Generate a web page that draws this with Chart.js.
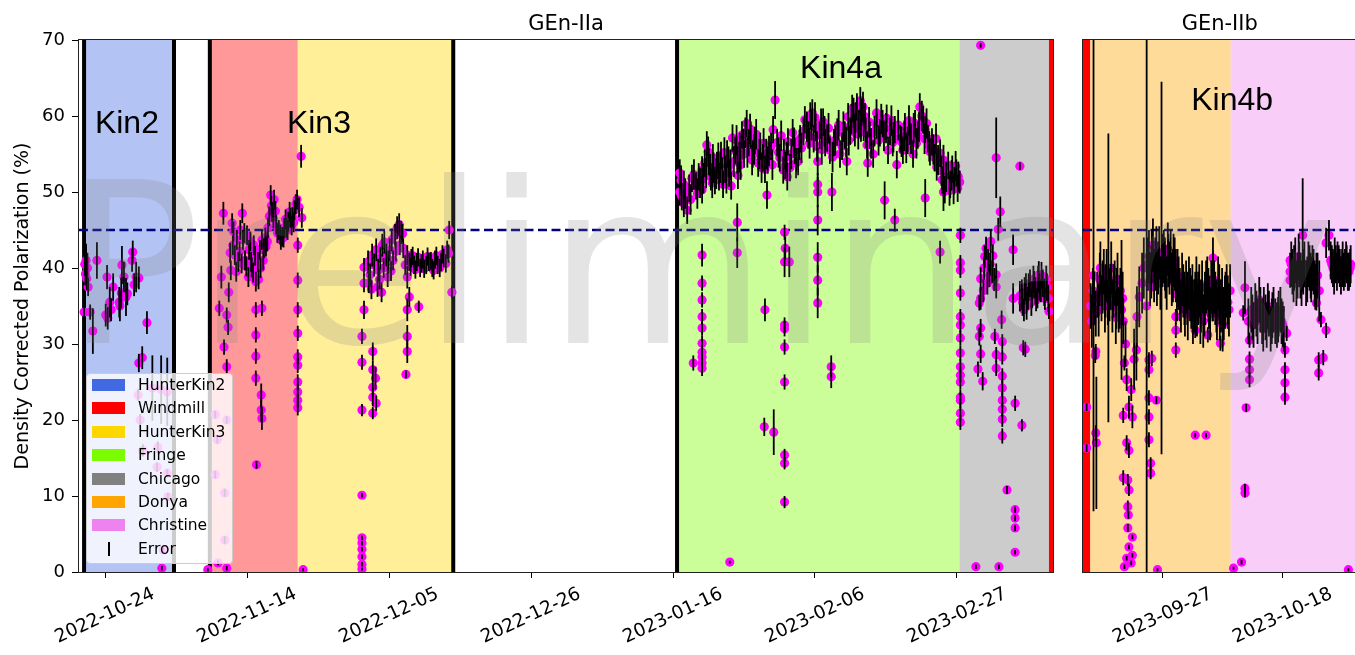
<!DOCTYPE html>
<html>
<head>
<meta charset="utf-8">
<title>Density Corrected Polarization</title>
<script src="https://cdn.jsdelivr.net/npm/chart.js@4.4.1/dist/chart.umd.min.js"></script>
<style>
  html, body { margin: 0; padding: 0; background: #fff; overflow: hidden; }
  #wrap { position: relative; width: 1355px; height: 655px; overflow: hidden; }
  #chartA { position: absolute; left: 0; top: 0; }
  #chartB { position: absolute; left: 1060px; top: 0; }
  #watermark {
    position: absolute; left: 65px; top: 153px;
    font-family: 'DejaVu Sans'; font-size: 225px; line-height: 1;
    color: rgba(128, 128, 128, 0.21); white-space: nowrap; pointer-events: none;
  }
  #legend {
    position: absolute; left: 86px; top: 373px; width: 147px; height: 191px;
    box-sizing: border-box; background: rgba(255, 255, 255, 0.8);
    border: 1px solid #ccc; border-radius: 4px;
    font-family: 'DejaVu Sans'; font-size: 15.5px; color: #000;
  }
  .row { position: absolute; left: 5px; height: 20px; display: flex; align-items: center; }
  .patch { width: 33px; height: 12px; margin-right: 13px; }
  .bar { width: 33px; height: 14px; margin-right: 13px; position: relative; }
  .bar::after { content: ''; position: absolute; left: 16px; top: 0; width: 1.5px; height: 14px; background: #000; }
</style>
</head>
<body>
<div id="wrap">
  <canvas id="chartA" width="1060" height="655"></canvas>
  <canvas id="chartB" width="301" height="655"></canvas>
  <div id="legend"></div>
  <div id="watermark">Preliminary</div>
</div>
<script>
// x values are days since EPOCH
var EPOCH = '2022-10-24';
function dayOf(s) {
    return (Date.parse(s + 'T00:00:00Z') - Date.parse(EPOCH + 'T00:00:00Z')) / 864e5;
}

var ticksA = ['2022-10-24', '2022-11-14', '2022-12-05', '2022-12-26', '2023-01-16', '2023-02-06', '2023-02-27'];
var ticksB = ['2023-09-27', '2023-10-18'];
var rangeA = [-3.85, 140.2];
var rangeB = [324.06, 371.9];
var polRange = [0, 70];
var TARGET_POL = 45;

var legendCells = ['HunterKin2', 'Windmill', 'HunterKin3', 'Fringe', 'Chicago', 'Donya', 'Christine'];
var cellColors = {
    HunterKin2: '#4169e1', Windmill: '#ff0000', HunterKin3: '#ffd700', Fringe: '#7cfc00',
    Chicago: '#808080', Donya: '#ffa500', Christine: '#ee82ee'
};

// [cell, start day, end day]
var cellSpans = [
    ['HunterKin2', -3.2, 10.2], ['Windmill', 15.5, 28.5], ['HunterKin3', 28.5, 51.5],
    ['Fringe', 84.6, 126.4], ['Chicago', 126.4, 139.6],
    ['Donya', 325.3, 349.9], ['Christine', 349.9, 380]
];
var solidSpans = [['Windmill', 139.6, 325.3]];
var runBoundaries = [-3.1, 10.2, 15.5, 51.5, 84.6];

// [text, day, polarization]
var kinLabels = [['Kin2', -1.5, 57.8], ['Kin3', 26.9, 57.8], ['Kin4a', 102.8, 65.0], ['Kin4b', 343.0, 60.8]];

// [day, polarization, error]
var kin2Points = [
    [-3.1, 34.2, 1.0], [-3.0, 40.5, 1.5], [-2.9, 39.2, 1.5], [-2.8, 41.0, 2.2], [-2.7, 38.6, 1.5],
    [-2.6, 40.0, 2.0], [-2.5, 37.5, 1.2], [-2.2, 34.2, 1.0], [-1.8, 31.7, 3.0], [-1.2, 41.0, 2.4],
    [0.1, 33.8, 1.5], [0.3, 38.8, 1.6], [0.4, 33.4, 1.5], [0.7, 35.5, 2.0], [0.9, 34.5, 1.5],
    [1.2, 37.5, 1.8], [2.1, 35.5, 2.0], [2.2, 35.0, 2.0], [2.4, 36.7, 2.0], [2.5, 40.4, 2.5],
    [2.8, 38.8, 2.0], [3.1, 36.2, 2.5], [3.3, 36.6, 1.5], [4.0, 41.0, 1.5], [4.1, 42.1, 1.5],
    [4.3, 37.8, 1.5], [4.6, 38.8, 2.0], [5.0, 38.7, 1.5], [6.2, 32.8, 1.5],
    [5.0, 27.5, 1.2], [5.5, 28.2, 1.5], [7.0, 24.2, 4.3], [8.3, 24.0, 4.5], [9.2, 23.7, 4.5],
    [4.9, 23.3, 0.8], [5.2, 20.0, 0.8], [5.6, 16.0, 0.8], [7.8, 16.4, 0.8], [7.7, 13.8, 0.6],
    [9.2, 13.0, 0.5], [9.3, 9.9, 0.5], [8.6, 2.9, 0.5], [8.4, 0.5, 0.3]
];

var windmillPoints = [
    [15.2, 0.3, 0.2], [16.3, 20.7, 0.5], [16.6, 17.4, 0.5], [16.3, 12.8, 0.5], [17.7, 10.4, 0.5],
    [17.7, 4.2, 0.5], [16.7, 1.2, 0.3], [18.0, 20.0, 0.5], [18.0, 0.5, 0.3],
    [16.9, 34.7, 1.0], [17.2, 38.8, 1.5], [17.5, 47.2, 1.5], [17.6, 29.6, 1.0], [18.0, 33.8, 1.0],
    [18.0, 27.0, 1.0], [18.2, 32.2, 1.0], [18.3, 36.8, 1.3], [18.6, 39.7, 1.3], [18.8, 45.9, 1.3],
    [18.9, 43.0, 1.3], [19.2, 41.7, 1.3], [19.5, 43.7, 1.3], [19.7, 40.8, 1.3], [20.0, 45.0, 1.3],
    [20.3, 47.2, 1.3], [20.4, 43.7, 1.3], [20.7, 41.0, 1.3], [21.0, 44.3, 1.3], [21.3, 42.4, 1.3],
    [21.6, 40.8, 1.3], [21.7, 40.1, 1.3], [22.0, 43.0, 1.3], [22.3, 38.2, 1.3], [22.6, 40.8, 1.3],
    [22.9, 42.4, 1.3], [23.2, 43.7, 1.3], [23.5, 42.6, 1.3], [23.8, 42.8, 1.3], [24.1, 45.3, 1.3],
    [24.5, 49.6, 1.3], [24.7, 47.4, 1.3], [25.0, 49.0, 1.3], [25.3, 45.7, 1.3], [25.7, 45.0, 1.3],
    [26.0, 43.7, 1.3], [26.2, 44.1, 1.3], [26.5, 45.3, 1.3], [26.8, 45.3, 1.3], [27.1, 46.1, 1.3],
    [27.4, 46.6, 1.3], [27.7, 46.7, 1.3], [28.0, 47.6, 1.3], [28.4, 49.0, 1.3],
    [18.5, 42.0, 1.3], [19.0, 44.8, 1.3], [19.4, 39.5, 1.3], [19.9, 42.2, 1.3], [20.2, 40.6, 1.3],
    [20.6, 44.6, 1.3], [20.9, 40.2, 1.3], [21.2, 38.8, 1.3], [21.5, 43.5, 1.3], [21.9, 39.4, 1.3],
    [22.2, 41.6, 1.3], [22.7, 38.5, 1.3], [23.0, 40.0, 1.3], [23.4, 41.0, 1.3], [23.7, 44.0, 1.3],
    [24.0, 43.5, 1.3], [24.3, 46.8, 1.3], [24.6, 48.2, 1.3], [24.9, 46.5, 1.3], [25.2, 47.5, 1.3],
    [25.5, 44.6, 1.3], [25.9, 44.4, 1.3], [26.4, 44.0, 1.3], [26.7, 46.4, 1.3], [27.0, 45.0, 1.3],
    [27.3, 47.4, 1.3], [27.6, 45.6, 1.3], [27.9, 46.0, 1.3], [28.2, 48.4, 1.3],
    [22.3, 34.5, 1.0], [22.3, 31.2, 1.0], [22.3, 28.4, 1.0], [22.3, 25.5, 1.0], [22.4, 14.1, 0.5],
    [23.1, 23.3, 1.5], [23.1, 21.3, 1.5], [23.2, 34.7, 1.0], [23.2, 20.2, 1.5],
    [28.5, 43.0, 1.0], [28.5, 38.4, 1.0], [28.5, 34.5, 1.0], [28.5, 31.4, 1.0], [28.5, 28.3, 1.0],
    [28.5, 27.2, 1.0], [28.5, 25.0, 1.0], [28.5, 23.7, 1.0], [28.5, 22.6, 1.0], [28.5, 21.6, 1.0]
];

var kin3Points = [
    [28.7, 48.0, 1.3], [29.0, 54.7, 1.5], [29.1, 46.6, 1.3], [29.3, 0.3, 0.2],
    [38.0, 31.0, 1.0], [38.0, 27.6, 1.0], [38.0, 21.3, 0.8], [38.0, 10.1, 0.3], [38.0, 4.5, 0.3],
    [38.0, 3.8, 0.3], [38.0, 3.0, 0.3], [38.0, 2.0, 0.3], [38.0, 1.0, 0.3], [38.0, 0.4, 0.2],
    [38.3, 34.5, 1.2], [38.3, 38.0, 1.2], [38.3, 40.1, 1.2], [38.9, 40.8, 1.5], [39.2, 39.1, 1.5],
    [39.5, 41.7, 1.5], [39.6, 29.0, 1.2], [39.6, 26.6, 1.2], [39.6, 24.3, 1.2], [39.6, 23.0, 1.2],
    [39.6, 20.9, 0.8], [39.8, 40.4, 1.5], [40.0, 25.5, 1.5], [40.1, 42.4, 1.5], [40.1, 22.2, 1.0],
    [40.4, 39.7, 1.5], [40.7, 41.3, 1.5], [41.0, 43.0, 1.5], [41.3, 43.4, 1.5], [41.6, 41.7, 1.5],
    [41.9, 40.8, 1.5], [42.1, 42.4, 1.5], [42.4, 43.7, 1.5], [42.9, 44.3, 1.5], [43.2, 45.3, 1.5],
    [43.5, 45.7, 1.5], [43.8, 44.7, 1.5], [44.1, 42.6, 1.3], [44.4, 40.4, 1.3], [44.5, 26.0, 0.5],
    [44.7, 41.7, 1.3], [44.7, 38.8, 1.5], [44.7, 34.5, 1.5], [44.7, 31.0, 1.5], [44.7, 29.0, 1.5],
    [45.0, 36.2, 1.3], [45.0, 40.8, 1.2], [45.3, 41.3, 1.2], [45.7, 40.4, 1.2], [46.1, 40.8, 1.2],
    [46.4, 34.9, 0.8], [46.6, 40.0, 1.2], [47.0, 41.1, 1.2], [47.5, 40.4, 1.2], [47.9, 40.8, 1.2],
    [48.4, 40.0, 1.2], [48.8, 41.1, 1.2], [49.2, 40.4, 1.2], [49.7, 40.8, 1.2], [50.1, 41.3, 1.2],
    [50.6, 42.4, 1.2], [50.9, 45.0, 1.2], [51.3, 36.8, 0.8],
    [45.2, 40.2, 1.2], [45.5, 41.6, 1.2], [45.9, 39.8, 1.2], [46.3, 41.4, 1.2], [46.8, 40.6, 1.2],
    [47.2, 39.9, 1.2], [47.7, 41.5, 1.2], [48.2, 40.9, 1.2], [48.6, 39.7, 1.2], [49.0, 41.6, 1.2],
    [49.5, 40.0, 1.2], [49.9, 41.8, 1.2], [50.4, 40.6, 1.2], [50.8, 41.9, 1.2], [39.0, 38.0, 1.3],
    [39.4, 37.2, 1.3], [40.6, 38.5, 1.3], [41.2, 40.0, 1.3], [41.8, 38.8, 1.3], [42.6, 41.0, 1.3],
    [43.0, 42.2, 1.3], [43.6, 43.0, 1.3], [44.0, 44.5, 1.3], [42.3, 39.6, 1.3], [40.9, 36.8, 1.3],
    [40.3, 37.5, 1.3]
];

var fringePoints = [
    [85.0, 52.5, 1.8], [85.0, 50.0, 1.8], [85.3, 49.4, 1.8], [85.6, 48.5, 1.8], [85.6, 51.0, 1.8],
    [86.1, 47.6, 1.8], [86.4, 50.5, 1.8], [86.8, 51.8, 1.8], [87.4, 50.8, 1.8], [87.8, 52.0, 1.8],
    [88.3, 52.9, 1.8], [88.3, 50.3, 1.8], [88.7, 53.8, 1.8], [89.0, 56.2, 1.8], [89.3, 54.0, 1.8],
    [89.6, 52.0, 1.8], [89.9, 54.5, 1.8], [90.2, 51.5, 1.8], [90.5, 53.5, 1.8], [90.8, 52.0, 1.8],
    [91.1, 54.8, 1.8], [91.4, 51.0, 1.8], [91.7, 53.0, 1.8], [92.0, 55.0, 1.8], [92.3, 52.5, 1.8],
    [92.6, 50.8, 1.8], [92.8, 57.1, 1.8], [93.2, 55.5, 1.8], [93.5, 54.2, 1.8], [93.6, 52.2, 1.8],
    [93.9, 56.0, 1.8], [94.2, 57.5, 1.8], [94.5, 55.0, 1.8], [94.9, 59.0, 1.8], [95.2, 56.5, 1.8],
    [95.5, 57.5, 1.8], [95.8, 55.0, 1.8], [96.1, 56.8, 1.8], [96.6, 53.8, 1.8], [96.9, 56.0, 1.8],
    [97.3, 54.5, 1.8], [97.6, 53.0, 1.8], [97.9, 49.6, 1.8], [98.0, 54.2, 1.8], [98.5, 56.0, 1.8],
    [98.8, 58.2, 1.8], [99.1, 62.1, 2.5], [99.4, 56.5, 1.8], [99.8, 54.5, 1.8], [100.3, 52.9, 1.8],
    [100.6, 53.5, 1.8], [100.9, 52.0, 1.8], [101.0, 56.6, 1.8], [101.3, 53.2, 1.8], [101.7, 57.8, 1.8],
    [102.0, 55.5, 1.8], [102.5, 54.0, 1.8], [102.8, 57.0, 1.8], [103.3, 58.0, 1.8], [103.5, 59.5, 1.8],
    [104.0, 57.5, 1.8], [104.3, 60.0, 1.8], [104.6, 60.4, 1.8], [104.8, 57.0, 1.8], [105.1, 58.5, 1.8],
    [105.4, 54.0, 1.8], [105.7, 57.5, 1.8], [106.2, 59.2, 1.8], [106.5, 56.5, 1.8], [106.8, 57.1, 1.8],
    [107.2, 55.5, 1.8], [107.8, 56.5, 1.8], [108.3, 57.9, 1.8], [108.7, 55.0, 1.8], [109.0, 56.0, 1.8],
    [109.4, 57.5, 1.8], [109.7, 54.0, 1.8], [109.9, 59.9, 1.8], [110.2, 58.0, 1.8], [110.5, 61.0, 1.8],
    [110.8, 58.5, 1.8], [110.9, 57.8, 1.8], [111.2, 61.2, 1.8], [111.5, 59.0, 1.8], [111.7, 62.0, 1.8],
    [111.9, 60.5, 1.8], [112.2, 58.5, 1.8], [112.4, 59.9, 1.8], [112.7, 56.2, 1.8], [112.8, 53.8, 1.8],
    [113.1, 57.5, 1.8], [113.6, 55.0, 1.8], [114.1, 60.4, 1.8], [114.1, 58.8, 1.8], [114.6, 57.8, 1.8],
    [115.0, 59.0, 1.8], [115.6, 59.7, 1.8], [115.8, 55.5, 1.8], [116.1, 58.0, 1.8], [116.5, 56.5, 1.8],
    [116.8, 58.2, 1.8], [117.1, 53.6, 1.8], [117.6, 57.0, 1.8], [118.0, 55.5, 1.8], [118.3, 58.6, 1.8],
    [118.7, 56.8, 1.8], [119.0, 58.0, 1.8], [119.5, 55.0, 1.8], [119.8, 59.0, 1.8], [120.2, 57.5, 1.8],
    [120.5, 61.2, 1.8], [121.0, 59.5, 1.8], [121.3, 58.2, 1.8], [121.7, 57.0, 1.8], [122.0, 55.3, 1.8],
    [122.3, 56.6, 1.8], [122.7, 54.5, 1.8], [123.0, 53.3, 1.8], [123.5, 55.1, 1.8], [123.8, 51.6, 1.8],
    [124.2, 50.3, 1.8], [124.7, 53.5, 1.8], [125.0, 51.0, 1.8], [125.3, 53.0, 1.8], [125.6, 51.5, 1.8],
    [125.9, 52.5, 1.8], [126.1, 50.5, 1.8],
    [85.2, 51.5, 2.0], [85.8, 49.8, 2.0], [86.6, 49.0, 2.0], [87.1, 52.3, 2.0], [87.6, 49.8, 2.0],
    [88.0, 51.2, 2.0], [88.5, 51.8, 2.0], [88.9, 52.5, 2.0], [89.2, 55.3, 2.0], [89.5, 53.0, 2.0],
    [89.8, 51.2, 2.0], [90.0, 53.2, 2.0], [90.4, 52.4, 2.0], [90.7, 54.5, 2.0], [91.0, 53.2, 2.0],
    [91.3, 52.6, 2.0], [91.6, 55.2, 2.0], [91.9, 51.8, 2.0], [92.2, 54.0, 2.0], [92.5, 53.6, 2.0],
    [93.0, 54.0, 2.0], [93.4, 56.8, 2.0], [93.8, 54.6, 2.0], [94.0, 53.6, 2.0], [94.4, 56.3, 2.0],
    [94.7, 57.8, 2.0], [95.0, 55.2, 2.0], [95.4, 58.3, 2.0], [95.7, 54.2, 2.0], [96.0, 55.6, 2.0],
    [96.3, 57.6, 2.0], [96.8, 55.0, 2.0], [97.1, 53.2, 2.0], [97.4, 56.4, 2.0], [97.8, 55.0, 2.0],
    [98.2, 55.4, 2.0], [98.7, 53.6, 2.0], [99.6, 55.2, 2.0], [100.0, 57.4, 2.0], [100.4, 55.0, 2.0],
    [100.8, 54.6, 2.0], [101.5, 55.0, 2.0], [101.9, 56.5, 2.0], [102.2, 53.8, 2.0], [102.7, 56.2, 2.0],
    [103.0, 55.8, 2.0], [103.8, 58.6, 2.0], [104.2, 56.4, 2.0], [104.5, 58.8, 2.0], [105.0, 59.8, 2.0],
    [105.3, 56.0, 2.0], [105.9, 59.0, 2.0], [106.0, 55.6, 2.0], [106.4, 58.0, 2.0], [107.0, 58.4, 2.0],
    [107.6, 54.6, 2.0], [108.0, 56.8, 2.0], [108.5, 58.8, 2.0], [109.2, 58.6, 2.0], [109.6, 56.6, 2.0],
    [110.0, 56.8, 2.0], [110.4, 59.6, 2.0], [110.7, 60.4, 2.0], [111.0, 59.8, 2.0], [111.4, 57.6, 2.0],
    [111.8, 58.6, 2.0], [112.1, 61.2, 2.0], [112.5, 57.8, 2.0], [113.0, 59.2, 2.0], [113.3, 56.4, 2.0],
    [113.8, 58.0, 2.0], [114.4, 56.8, 2.0], [114.8, 59.6, 2.0], [115.2, 57.4, 2.0], [115.5, 58.4, 2.0],
    [116.3, 59.4, 2.0], [116.6, 57.2, 2.0], [117.3, 58.8, 2.0], [117.8, 56.6, 2.0], [118.2, 57.4, 2.0],
    [118.5, 55.8, 2.0], [118.9, 59.4, 2.0], [119.2, 57.0, 2.0], [119.6, 58.4, 2.0], [120.0, 56.4, 2.0],
    [120.4, 58.6, 2.0], [120.8, 60.0, 2.0], [121.2, 57.0, 2.0], [121.5, 59.0, 2.0], [121.9, 56.0, 2.0],
    [122.5, 55.6, 2.0], [122.9, 57.0, 2.0], [123.2, 54.2, 2.0], [123.7, 52.8, 2.0], [124.0, 54.2, 2.0],
    [124.4, 52.0, 2.0], [124.9, 50.2, 2.0], [125.2, 52.2, 2.0], [125.5, 50.4, 2.0], [125.8, 53.4, 2.0],
    [126.2, 52.0, 2.0],
    [87.0, 27.5, 1.0], [88.3, 41.7, 1.5], [88.3, 38.0, 1.0], [88.3, 35.8, 1.0], [88.3, 33.6, 1.0],
    [88.3, 32.1, 1.0], [88.3, 30.1, 1.0], [88.3, 28.9, 1.0], [88.3, 28.3, 1.0], [88.3, 27.5, 1.0],
    [88.3, 26.8, 1.0], [93.5, 46.0, 2.5], [93.5, 42.0, 2.0], [92.4, 1.3, 0.2], [97.6, 34.5, 1.5],
    [97.5, 19.1, 1.2], [98.9, 18.4, 3.0], [100.5, 44.7, 1.0], [100.6, 42.6, 1.5], [100.5, 40.8, 2.0],
    [101.2, 40.8, 2.0], [100.5, 32.5, 1.0], [100.5, 32.0, 1.0], [100.5, 29.6, 1.0], [100.5, 25.0, 1.0],
    [100.5, 15.4, 0.8], [100.5, 14.3, 0.8], [100.5, 9.2, 0.8], [105.4, 50.0, 2.0], [105.4, 46.3, 2.0],
    [105.4, 41.4, 2.0], [105.4, 38.4, 2.0], [105.4, 35.4, 2.0], [105.4, 51.0, 1.5], [107.4, 27.0, 1.5],
    [107.4, 25.7, 1.5], [107.5, 50.0, 2.5], [115.3, 48.9, 2.5], [116.8, 46.3, 1.5], [121.3, 49.2, 2.5],
    [123.5, 42.1, 1.5], [124.0, 50.0, 2.5]
];

var chicagoPoints = [
    [126.5, 44.3, 1.0], [126.5, 40.7, 1.0], [126.5, 39.7, 1.0], [126.5, 36.7, 1.0], [126.5, 33.6, 1.0],
    [126.5, 32.5, 1.0], [126.5, 30.8, 1.0], [126.5, 28.8, 1.0], [126.5, 27.0, 1.0], [126.5, 25.9, 1.0],
    [126.5, 25.0, 1.0], [126.5, 23.0, 1.0], [126.5, 22.6, 1.0], [126.5, 20.9, 1.0], [126.5, 19.7, 1.0],
    [126.4, 51.3, 1.5], [129.5, 69.3, 0.3], [128.8, 0.7, 0.3], [132.2, 0.7, 0.3],
    [129.1, 26.7, 1.0], [129.3, 35.4, 1.0], [129.5, 32.1, 1.2], [129.5, 28.7, 1.2], [129.5, 38.6, 1.5],
    [129.5, 36.0, 1.5], [129.8, 25.1, 1.2], [129.3, 31.0, 1.2],
    [130.0, 40.0, 1.5], [130.3, 42.6, 1.5], [130.6, 41.0, 1.5], [131.0, 43.5, 1.5], [131.3, 41.6, 1.5],
    [130.8, 39.0, 1.5], [131.5, 38.5, 1.5], [131.8, 39.1, 1.5], [131.8, 37.5, 1.5],
    [130.1, 41.5, 1.5], [130.5, 38.0, 1.5], [130.9, 40.5, 1.5], [131.2, 39.5, 1.5], [129.9, 37.0, 1.5],
    [131.8, 54.5, 5.3], [132.1, 45.1, 1.5], [132.4, 47.4, 2.0],
    [131.6, 31.0, 1.0], [131.8, 28.6, 1.0], [131.8, 26.8, 1.0],
    [132.6, 33.2, 1.2], [132.7, 30.3, 1.0], [132.7, 28.3, 1.0], [132.7, 25.8, 1.0], [132.7, 24.2, 1.0],
    [132.7, 22.6, 1.0], [132.7, 21.4, 1.0], [132.7, 20.1, 1.0], [132.7, 17.9, 1.0],
    [133.4, 10.8, 0.5], [134.6, 8.2, 0.4], [134.6, 7.1, 0.4], [134.6, 5.8, 0.4], [134.6, 2.6, 0.3],
    [134.6, 22.2, 1.0], [135.6, 19.3, 0.8], [135.8, 29.5, 1.0],
    [134.3, 42.4, 2.0], [134.3, 36.0, 2.0], [135.3, 36.3, 2.0], [135.3, 53.4, 0.5],
    [135.6, 36.5, 2.0], [135.9, 34.5, 1.5], [136.2, 37.5, 1.8], [136.5, 36.0, 1.5], [136.8, 38.0, 1.8],
    [137.1, 36.5, 1.8], [137.4, 37.8, 1.8], [137.7, 35.8, 1.5], [138.0, 38.5, 1.8], [138.1, 39.1, 1.8],
    [138.4, 37.0, 1.5], [138.7, 38.0, 1.8], [139.0, 36.0, 1.5], [139.3, 37.5, 1.8], [139.6, 34.3, 1.0],
    [135.7, 35.5, 1.8], [136.0, 37.0, 1.8], [136.3, 35.0, 1.8], [136.6, 37.5, 1.8], [137.0, 35.5, 1.8],
    [137.3, 38.5, 1.8], [137.6, 37.0, 1.8], [137.9, 36.5, 1.8], [138.2, 37.5, 1.8], [138.5, 39.0, 1.8],
    [138.9, 36.8, 1.8], [139.2, 38.5, 1.8], [139.5, 36.0, 1.8],
    [136.1, 29.3, 1.0]
];

var donyaPoints = [
    [324.7, 21.7, 0.5], [324.7, 16.3, 0.5],
    [325.4, 35.0, 3.0], [325.8, 37.0, 3.0], [325.9, 39.0, 31.0], [326.3, 34.0, 3.0], [326.3, 29.0, 1.0],
    [326.2, 28.5, 1.0], [326.3, 18.3, 1.0], [326.4, 17.0, 8.7],
    [326.6, 36.5, 3.0], [327.0, 38.5, 3.5], [327.3, 36.0, 3.0], [327.7, 39.5, 3.0], [328.0, 37.0, 3.5],
    [328.4, 35.5, 3.0], [328.5, 38.7, 19.0], [328.9, 37.5, 3.0], [329.2, 35.0, 3.5], [329.6, 38.0, 3.0],
    [329.9, 36.0, 4.0], [330.3, 34.5, 3.0], [330.6, 37.0, 3.0], [330.8, 34.5, 9.2], [331.1, 33.0, 3.0],
    [331.5, 30.0, 3.0],
    [325.6, 33.0, 3.5], [326.0, 36.0, 3.5], [326.8, 34.5, 3.5], [327.1, 40.0, 3.5], [327.5, 37.5, 3.5],
    [327.9, 35.0, 3.5], [328.2, 39.0, 3.5], [328.7, 36.5, 3.5], [329.0, 40.0, 3.5], [329.4, 37.0, 3.5],
    [329.8, 33.5, 3.5], [330.1, 38.5, 3.5], [330.5, 35.5, 3.5], [331.0, 36.0, 3.5],
    [331.1, 20.6, 1.0], [331.1, 12.4, 1.0], [331.3, 27.5, 1.0], [331.3, 0.7, 0.3], [331.7, 25.3, 1.5],
    [331.7, 17.0, 1.0], [331.7, 1.8, 0.3], [331.9, 12.1, 0.8], [331.9, 8.6, 0.8], [331.9, 5.8, 0.5],
    [332.0, 7.5, 0.5], [332.1, 21.7, 1.5], [332.1, 16.0, 1.0], [332.1, 10.8, 0.8], [332.1, 3.3, 0.3],
    [332.5, 24.0, 1.5], [332.5, 1.2, 0.3], [332.7, 20.4, 1.5], [332.7, 4.6, 0.3], [332.7, 2.2, 0.3],
    [333.0, 28.0, 4.0], [333.4, 29.2, 4.0], [333.5, 33.6, 4.0], [333.9, 36.2, 4.0], [334.4, 38.0, 4.0],
    [334.7, 40.0, 4.0],
    [335.2, 35.0, 35.0], [335.6, 27.9, 1.0], [335.6, 26.6, 1.0], [335.6, 22.9, 1.0], [335.6, 20.4, 1.0],
    [335.6, 17.4, 1.0], [335.9, 14.3, 0.8], [335.9, 13.0, 0.8], [336.1, 28.1, 1.0], [336.9, 22.6, 0.5],
    [337.1, 0.3, 0.2],
    [335.4, 40.5, 3.5], [335.8, 38.5, 3.5], [336.1, 41.5, 3.5], [336.5, 39.0, 3.5], [336.9, 42.0, 3.5],
    [337.2, 40.0, 3.5], [337.6, 38.0, 3.5], [337.8, 40.0, 24.5], [338.2, 41.5, 3.5], [338.5, 39.5, 3.5],
    [338.9, 42.5, 3.5], [339.2, 40.0, 3.5], [339.6, 38.5, 3.5], [339.9, 41.0, 3.5], [340.3, 39.0, 3.5],
    [335.6, 41.5, 3.5], [336.0, 39.5, 3.5], [336.3, 43.0, 3.5], [336.7, 40.5, 3.5], [337.0, 38.5, 3.5],
    [337.4, 42.0, 3.5], [337.9, 41.0, 3.5], [338.4, 40.5, 3.5], [338.7, 38.0, 3.5], [339.0, 41.0, 3.5],
    [339.4, 41.5, 3.5], [339.8, 39.0, 3.5], [340.1, 40.5, 3.5],
    [340.5, 36.5, 3.5], [340.8, 38.0, 3.5], [341.2, 35.0, 3.5], [341.6, 37.0, 3.5], [341.9, 34.5, 3.5],
    [342.3, 36.0, 3.5], [342.6, 38.0, 3.5], [343.0, 35.5, 3.5], [343.3, 33.5, 3.5], [343.7, 36.0, 3.5],
    [344.0, 34.5, 3.5], [344.4, 37.0, 3.5], [344.7, 35.0, 3.5], [345.1, 33.0, 3.5], [345.4, 36.0, 3.5],
    [345.8, 38.0, 3.5], [346.1, 35.5, 3.5], [346.5, 37.5, 3.5], [346.8, 38.5, 5.5], [347.2, 36.0, 3.5],
    [347.5, 34.0, 3.5], [347.9, 37.0, 3.5], [348.2, 35.0, 3.5], [348.5, 32.5, 3.5], [348.9, 35.5, 3.5],
    [349.2, 37.0, 3.5], [349.6, 34.5, 3.5],
    [340.6, 39.0, 3.5], [341.0, 36.5, 3.5], [341.4, 38.5, 3.5], [341.8, 36.0, 3.5], [342.1, 37.5, 3.5],
    [342.4, 34.0, 3.5], [342.8, 36.5, 3.5], [343.2, 37.0, 3.5], [343.5, 35.0, 3.5], [343.9, 38.0, 3.5],
    [344.2, 36.0, 3.5], [344.6, 33.5, 3.5], [344.9, 37.5, 3.5], [345.3, 34.5, 3.5], [345.6, 37.5, 3.5],
    [346.0, 36.5, 3.5], [346.3, 34.0, 3.5], [346.7, 36.5, 3.5], [347.0, 37.5, 3.5], [347.4, 35.0, 3.5],
    [347.7, 38.0, 3.5], [348.0, 34.0, 3.5], [348.4, 36.5, 3.5], [348.7, 34.0, 3.5], [349.0, 36.0, 3.5],
    [349.4, 35.5, 3.5], [349.8, 37.0, 3.5],
    [340.3, 33.6, 1.0], [340.3, 31.8, 1.0], [340.3, 29.2, 1.0], [343.7, 31.8, 1.0], [345.9, 31.2, 1.0],
    [348.1, 30.1, 1.0], [343.7, 18.0, 0.3], [345.6, 18.0, 0.3], [346.8, 41.3, 1.0], [347.9, 33.6, 1.0],
    [337.3, 40.1, 1.0], [336.0, 37.5, 1.0]
];

var christinePoints = [
    [350.4, 0.5, 0.2], [351.8, 1.3, 0.3], [352.4, 37.4, 3.5], [352.1, 34.1, 1.0], [352.6, 21.6, 0.5],
    [352.4, 11.0, 0.6], [352.4, 10.4, 0.6],
    [353.2, 30.5, 1.0], [353.2, 28.0, 1.0], [353.2, 26.6, 1.0], [353.2, 25.3, 1.0],
    [353.0, 33.0, 3.0], [353.5, 34.5, 3.0], [353.9, 32.5, 3.0], [354.4, 34.0, 3.0], [354.9, 35.8, 3.0],
    [355.4, 33.0, 3.0], [355.7, 34.5, 3.0], [356.2, 32.5, 3.0], [356.6, 34.0, 3.0], [357.1, 33.0, 3.0],
    [357.4, 34.5, 3.0], [358.0, 32.5, 3.0], [358.3, 34.0, 3.0], [358.8, 33.0, 3.0], [359.2, 32.0, 3.0],
    [353.7, 33.5, 3.0], [354.2, 35.0, 3.0], [354.6, 33.0, 3.0], [355.1, 34.5, 3.0], [355.6, 32.0, 3.0],
    [356.0, 33.5, 3.0], [356.4, 35.0, 3.0], [356.9, 32.0, 3.0], [357.2, 33.8, 3.0], [357.7, 33.0, 3.0],
    [358.2, 33.2, 3.0], [358.6, 34.5, 3.0], [359.0, 32.6, 3.0],
    [359.4, 29.2, 1.0], [359.4, 26.6, 1.0], [359.4, 24.9, 1.0], [359.4, 23.0, 1.0], [359.7, 31.4, 1.0],
    [360.3, 41.0, 1.0], [360.3, 39.5, 1.0], [360.3, 38.4, 1.0],
    [360.5, 40.5, 3.0], [360.9, 38.5, 3.0], [361.2, 41.0, 3.0], [361.6, 39.0, 3.0], [361.9, 40.5, 3.0],
    [362.3, 38.0, 3.0], [362.6, 39.5, 3.0], [362.5, 44.3, 7.5], [363.3, 38.5, 3.0], [363.7, 40.0, 3.0],
    [364.0, 38.5, 3.0], [364.4, 39.5, 3.0], [364.7, 37.5, 3.0], [365.1, 39.0, 3.0], [365.4, 37.0, 4.0],
    [360.7, 39.5, 3.0], [361.0, 40.0, 3.0], [361.4, 38.0, 3.0], [361.8, 41.5, 3.0], [362.1, 39.0, 3.0],
    [362.8, 40.5, 3.0], [363.1, 38.0, 3.0], [363.5, 40.5, 3.0], [363.9, 39.0, 3.0], [364.2, 40.0, 3.0],
    [364.6, 38.0, 3.0], [364.9, 39.0, 3.0],
    [364.9, 35.4, 1.0], [365.7, 33.2, 1.0], [366.6, 31.8, 1.0], [365.3, 27.9, 1.0], [365.3, 26.2, 1.0],
    [366.1, 28.2, 1.0], [366.6, 43.3, 2.0], [367.1, 44.3, 2.0],
    [367.4, 41.0, 2.5], [367.8, 40.0, 2.5], [368.1, 41.5, 2.5], [368.5, 39.5, 2.5], [368.8, 40.5, 2.5],
    [369.2, 39.0, 2.5], [369.5, 41.0, 2.5], [369.9, 40.0, 2.5], [370.2, 40.5, 2.5], [370.6, 39.5, 2.5],
    [370.9, 40.5, 2.5],
    [367.6, 40.5, 2.5], [368.0, 39.0, 2.5], [368.3, 40.5, 2.5], [368.6, 41.0, 2.5], [369.0, 40.0, 2.5],
    [369.4, 40.0, 2.5], [369.7, 39.5, 2.5], [370.1, 41.0, 2.5], [370.4, 39.5, 2.5], [370.8, 40.0, 2.5],
    [370.5, 0.3, 0.2]
];

var FONT = 'DejaVu Sans';

function decorPlugin(title, ticks) {
    return {
        id: 'decor',
        beforeDatasetsDraw: function(chart) {
            var ctx = chart.ctx, a = chart.chartArea, x = chart.scales.x;
            ctx.save();
            ctx.beginPath();
            ctx.rect(a.left, a.top, a.right - a.left, a.bottom - a.top);
            ctx.clip();
            function fillSpan(s, alpha) {
                var x0 = x.getPixelForValue(s[1]), x1 = x.getPixelForValue(s[2]);
                ctx.globalAlpha = alpha;
                ctx.fillStyle = cellColors[s[0]];
                ctx.fillRect(x0, a.top, x1 - x0, a.bottom - a.top);
            }
            cellSpans.forEach(function(s) { fillSpan(s, 0.4); });
            solidSpans.forEach(function(s) { fillSpan(s, 1); });
            ctx.globalAlpha = 1;
            ctx.fillStyle = '#000';
            runBoundaries.forEach(function(d) {
                var px = x.getPixelForValue(d);
                ctx.fillRect(px - 2, a.top, 4, a.bottom - a.top);
            });
            ctx.restore();
        },
        afterDatasetsDraw: function(chart) {
            var ctx = chart.ctx, a = chart.chartArea, x = chart.scales.x, y = chart.scales.y;
            ctx.save();
            ctx.fillStyle = '#000';
            ctx.font = '32px "Liberation Sans"';
            ctx.textAlign = 'left';
            ctx.textBaseline = 'alphabetic';
            kinLabels.forEach(function(k) {
                if (k[1] < x.min || k[1] > x.max) return;
                ctx.fillText(k[0], x.getPixelForValue(k[1]), y.getPixelForValue(k[2]));
            });
            ctx.strokeStyle = '#222';
            ctx.lineWidth = 1;
            ctx.strokeRect(a.left - 0.5, a.top - 0.5, a.right - a.left + 1, a.bottom - a.top + 1);
            ctx.restore();
        },
        afterDraw: function(chart) {
            var ctx = chart.ctx, a = chart.chartArea, x = chart.scales.x;
            ctx.save();
            ctx.fillStyle = '#000';
            ctx.font = '18.5px "' + FONT + '"';
            ctx.textAlign = 'center';
            ctx.textBaseline = 'middle';
            ticks.forEach(function(t) {
                ctx.save();
                ctx.translate(x.getPixelForValue(dayOf(t)), a.bottom + 44);
                ctx.rotate(-25 * Math.PI / 180);
                ctx.fillText(t, 0, 0);
                ctx.restore();
            });
            ctx.font = '21px "' + FONT + '"';
            ctx.textBaseline = 'alphabetic';
            ctx.fillText(title, (a.left + a.right) / 2, 30);
            ctx.restore();
        }
    };
}

function buildPanel(canvasId, title, range, ticks, points, isLeft) {
    var datasets = [
        {
            type: 'bar',
            data: points.map(function(p) { return { x: p[0], y: [p[1] - p[2], p[1] + p[2]] }; }),
            backgroundColor: '#000',
            borderWidth: 0,
            barThickness: 1.8,
            inflateAmount: 0,
            grouped: false,
            clip: 0,
            order: 1
        },
        {
            type: 'scatter',
            data: points.map(function(p) { return { x: p[0], y: p[1] }; }),
            backgroundColor: '#ff00ff',
            borderWidth: 0,
            pointRadius: 4.6,
            pointHoverRadius: 4.6,
            clip: 0,
            order: 2
        },
        {
            type: 'line',
            data: [{ x: range[0], y: TARGET_POL }, { x: range[1], y: TARGET_POL }],
            borderColor: '#000080',
            borderWidth: 2.3,
            borderDash: [9, 4.5],
            pointRadius: 0,
            clip: 0,
            order: 3
        }
    ];

    return new Chart(document.getElementById(canvasId), {
        type: 'scatter',
        data: { datasets: datasets },
        plugins: [decorPlugin(title, ticks)],
        options: {
            responsive: false,
            animation: false,
            devicePixelRatio: 1,
            events: [],
            layout: { padding: { top: 40, right: isLeft ? 7 : 0, bottom: 0, left: 0 } },
            plugins: { legend: { display: false }, tooltip: { enabled: false } },
            scales: {
                x: {
                    type: 'linear',
                    min: range[0],
                    max: range[1],
                    offset: false,
                    afterBuildTicks: function(s) {
                        s.ticks = ticks.map(function(t) { return { value: dayOf(t) }; });
                    },
                    ticks: { display: false },
                    grid: { drawOnChartArea: false, drawTicks: true, tickLength: 6, color: '#000', offset: false },
                    border: { display: false },
                    afterFit: function(s) { s.height = 83; }
                },
                y: {
                    type: 'linear',
                    min: polRange[0],
                    max: polRange[1],
                    ticks: {
                        display: isLeft,
                        stepSize: 10,
                        color: '#000',
                        padding: 7,
                        font: { family: FONT, size: 18 }
                    },
                    grid: { display: isLeft, drawOnChartArea: false, tickLength: 7, color: '#000' },
                    border: { display: false },
                    title: {
                        display: isLeft,
                        text: 'Density Corrected Polarization (%)',
                        color: '#000',
                        font: { family: FONT, size: 19 },
                        padding: { top: 12, bottom: 0 }
                    },
                    afterFit: function(s) { s.width = isLeft ? 79 : 23; }
                }
            }
        }
    });
}

function buildLegend() {
    var box = document.getElementById('legend');
    var labels = legendCells.concat(['Error']);
    labels.forEach(function(name, i) {
        var row = document.createElement('div');
        row.className = 'row';
        row.style.top = (1 + i * 23.4) + 'px';
        var mark = document.createElement('span');
        if (cellColors[name]) {
            mark.className = 'patch';
            mark.style.background = cellColors[name];
        } else {
            mark.className = 'bar';
        }
        var text = document.createElement('span');
        text.textContent = name;
        row.appendChild(mark);
        row.appendChild(text);
        box.appendChild(row);
    });
}

var pointsA = kin2Points.concat(windmillPoints, kin3Points, fringePoints, chicagoPoints);
var pointsB = donyaPoints.concat(christinePoints);

buildPanel('chartA', 'GEn-IIa', rangeA, ticksA, pointsA, true);
buildPanel('chartB', 'GEn-IIb', rangeB, ticksB, pointsB, false);
buildLegend();
</script>
</body>
</html>
